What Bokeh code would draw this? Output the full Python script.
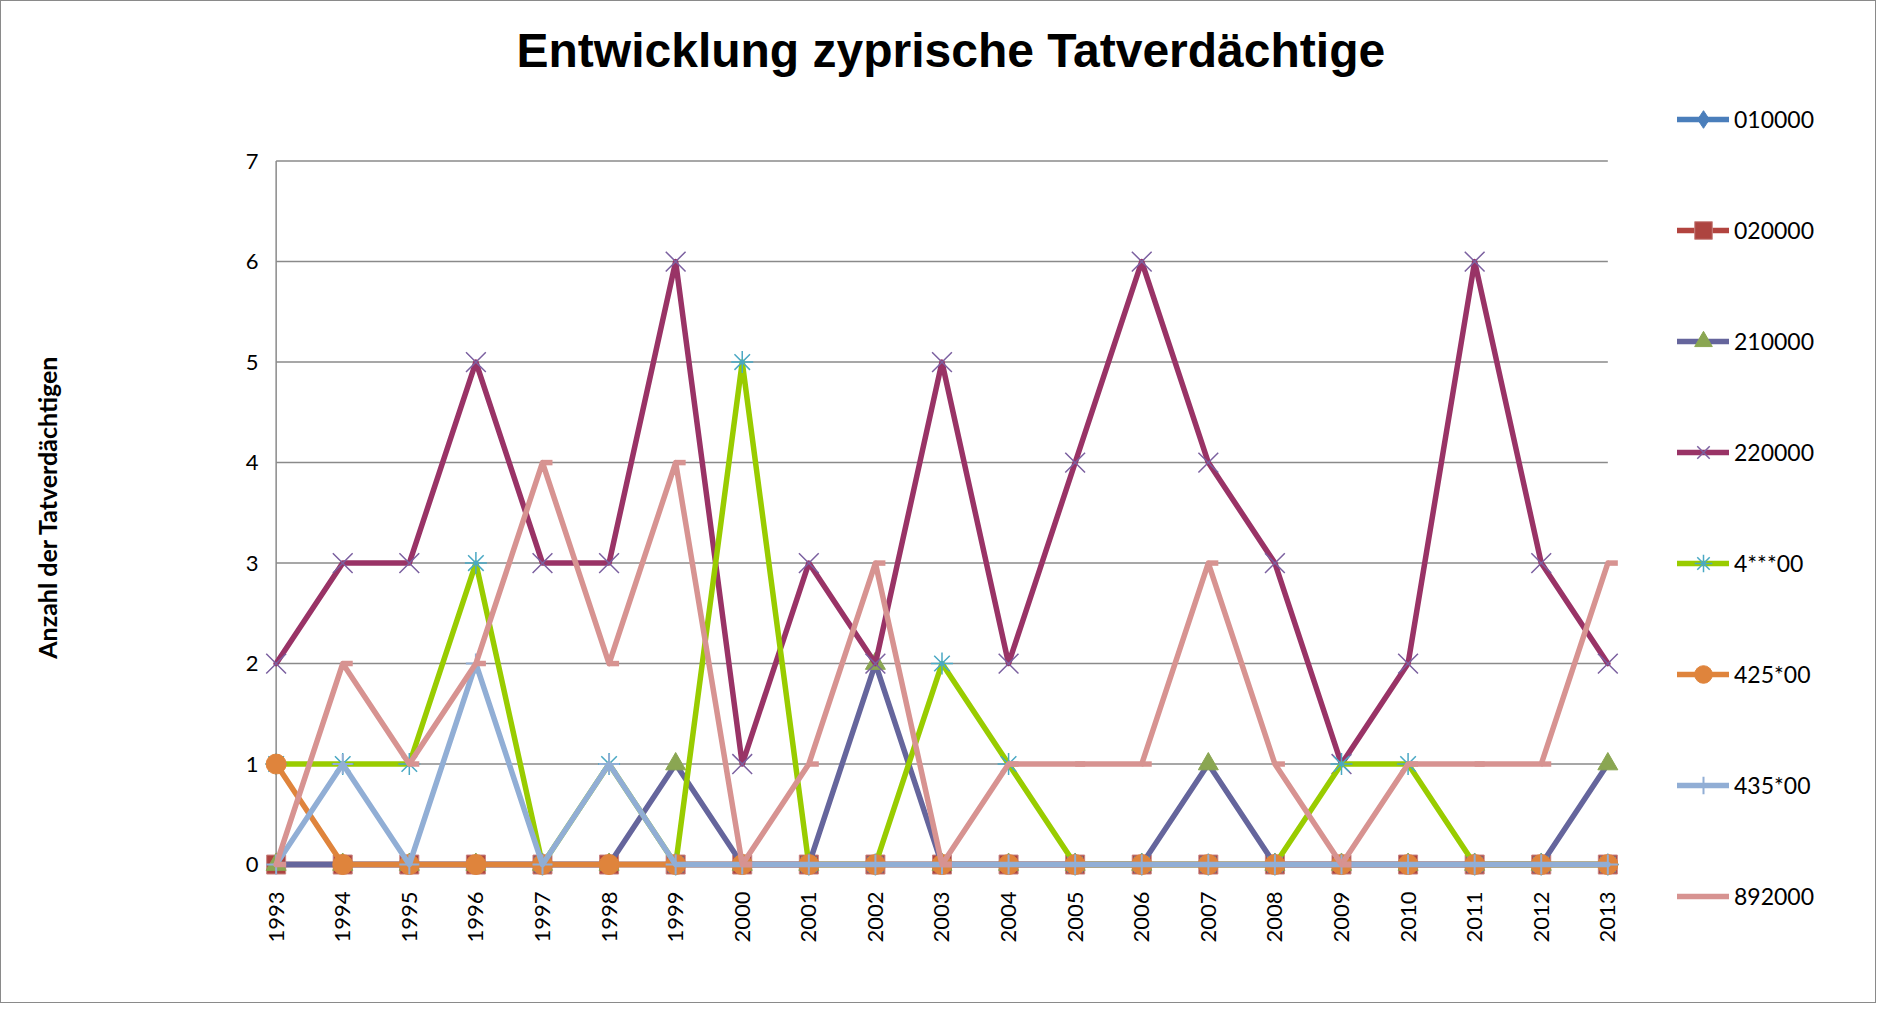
import math
from bokeh.plotting import figure
from bokeh.models import Legend, LegendItem, FixedTicker, Range1d
from bokeh.embed import file_html
from bokeh.resources import INLINE

# ---------------- data ----------------
years = [1993, 1994, 1995, 1996, 1997, 1998, 1999, 2000, 2001, 2002, 2003,
         2004, 2005, 2006, 2007, 2008, 2009, 2010, 2011, 2012, 2013]
y_ticks = [0, 1, 2, 3, 4, 5, 6, 7]

s010000 = [0, 0, 0, 0, 0, 0, 0, 0, 0, 0, 0, 0, 0, 0, 0, 0, 0, 0, 0, 0, 0]
s020000 = [0, 0, 0, 0, 0, 0, 0, 0, 0, 0, 0, 0, 0, 0, 0, 0, 0, 0, 0, 0, 0]
s210000 = [0, 0, 0, 0, 0, 0, 1, 0, 0, 2, 0, 0, 0, 0, 1, 0, 0, 0, 0, 0, 1]
s220000 = [2, 3, 3, 5, 3, 3, 6, 1, 3, 2, 5, 2, 4, 6, 4, 3, 1, 2, 6, 3, 2]
s4xxx00 = [1, 1, 1, 3, 0, 1, 0, 5, 0, 0, 2, 1, 0, 0, 0, 0, 1, 1, 0, 0, 0]
s425x00 = [1, 0, 0, 0, 0, 0, 0, 0, 0, 0, 0, 0, 0, 0, 0, 0, 0, 0, 0, 0, 0]
s435x00 = [0, 1, 0, 2, 0, 1, 0, 0, 0, 0, 0, 0, 0, 0, 0, 0, 0, 0, 0, 0, 0]
s892000 = [0, 2, 1, 2, 4, 2, 4, 0, 1, 3, 0, 1, 1, 1, 3, 1, 0, 1, 1, 1, 3]

series_names = ["010000", "020000", "210000", "220000", "4***00", "425*00", "435*00", "892000"]

title_text = "Entwicklung zyprische Tatverdächtige"
y_title = "Anzahl der Tatverdächtigen"

# ---------------- figure ----------------
p = figure(width=1876, height=1003, output_backend="svg", toolbar_location=None,
           x_range=Range1d(1992.75, 2017.05), y_range=Range1d(-0.527, 7.643),
           min_border_left=258, min_border_right=0, min_border_top=90,
           min_border_bottom=87)
p.styles = {"border": "1px solid #8a8a8a"}
p.outline_line_color = None
p.xgrid.visible = False
p.ygrid.visible = False

p.title.text = title_text
p.title.text_font = "Liberation Sans"
p.title.text_font_style = "bold"
p.title.text_font_size = "48px"
p.title.text_color = "black"
p.title.align = "left"
p.title.offset = 257
p.title.standoff = 40

# axes
p.xaxis.ticker = FixedTicker(ticks=years)
p.yaxis.ticker = FixedTicker(ticks=y_ticks)
for ax in (p.xaxis, p.yaxis):
    ax.axis_line_color = None
    ax.major_tick_line_color = None
    ax.minor_tick_line_color = None
    ax.major_tick_out = 0
    ax.major_tick_in = 0
    ax.major_label_text_font = "Lato"
    ax.major_label_text_font_size = "22px"
    ax.major_label_text_color = "black"
p.xaxis.major_label_orientation = math.pi / 2
p.xaxis.major_label_standoff = -26
p.yaxis.major_label_standoff = 1

p.yaxis.axis_label = y_title
p.yaxis.axis_label_text_font = "Lato"
p.yaxis.axis_label_text_font_style = "bold"
p.yaxis.axis_label_text_font_size = "25px"
p.yaxis.axis_label_text_color = "black"
p.yaxis.axis_label_standoff = 181

# gridlines and axis line (limited to the category span)
grid_col = "#8a8a8a"
p.segment(x0=[years[0]] * len(y_ticks), y0=y_ticks, x1=[years[-1]] * len(y_ticks), y1=y_ticks,
          line_color=grid_col, line_width=1.5)
p.segment(x0=[years[0]], y0=[y_ticks[0]], x1=[years[0]], y1=[y_ticks[-1]],
          line_color=grid_col, line_width=1.5)

LW = 5.5
items = []

def add_line(vals, color):
    return p.line(years, vals, line_color=color, line_width=LW, line_join="round", line_cap="round")

# 010000
l = add_line(s010000, "#4a7ebb")
m = p.scatter(years, s010000, marker="diamond", size=18, fill_color="#4a7ebb", line_color="#4a7ebb")
items.append(LegendItem(label=series_names[0], renderers=[l, m]))
# 020000
l = add_line(s020000, "#b2443f")
m = p.scatter(years, s020000, marker="square", size=19, fill_color="#ad4440", line_color="#c98583", line_width=1)
items.append(LegendItem(label=series_names[1], renderers=[l, m]))
# 210000
l = add_line(s210000, "#65659c")
m = p.scatter(years, s210000, marker="triangle", size=20, fill_color="#8aa652", line_color="#8aa652")
items.append(LegendItem(label=series_names[2], renderers=[l, m]))
# 220000
l = add_line(s220000, "#993366")
m = p.scatter(years, s220000, marker="x", size=28, line_color="#7b60a0", line_width=1.5)
items.append(LegendItem(label=series_names[3], renderers=[l, m]))
# 4***00
l = add_line(s4xxx00, "#99cc00")
m = p.scatter(years, s4xxx00, marker="asterisk", size=22, line_color="#4aa8c4", line_width=1.5)
items.append(LegendItem(label=series_names[4], renderers=[l, m]))
# 425*00
l = add_line(s425x00, "#df843c")
m = p.scatter(years, s425x00, marker="circle", size=20, fill_color="#df843c", line_color="#df843c")
items.append(LegendItem(label=series_names[5], renderers=[l, m]))
# 435*00
l = add_line(s435x00, "#91aed5")
m = p.scatter(years, s435x00, marker="cross", size=20, line_color="#91aed5", line_width=2)
items.append(LegendItem(label=series_names[6], renderers=[l, m]))
# 892000
l = add_line(s892000, "#d79391")
p.ray(x=years, y=s892000, length=10, length_units="screen", angle=0,
      line_color="#d79391", line_width=LW, line_cap="butt")
items.append(LegendItem(label=series_names[7], renderers=[l]))

legend = Legend(items=items, location=(1418, -1), orientation="vertical",
                glyph_width=52, glyph_height=44, label_height=44, label_width=10,
                spacing=67, padding=0, margin=0, label_standoff=5,
                border_line_color=None, background_fill_alpha=0,
                label_text_font="Lato", label_text_font_size="23px",
                label_text_color="black")
p.add_layout(legend, "center")

open("out.html", "w").write(file_html(p, INLINE))
